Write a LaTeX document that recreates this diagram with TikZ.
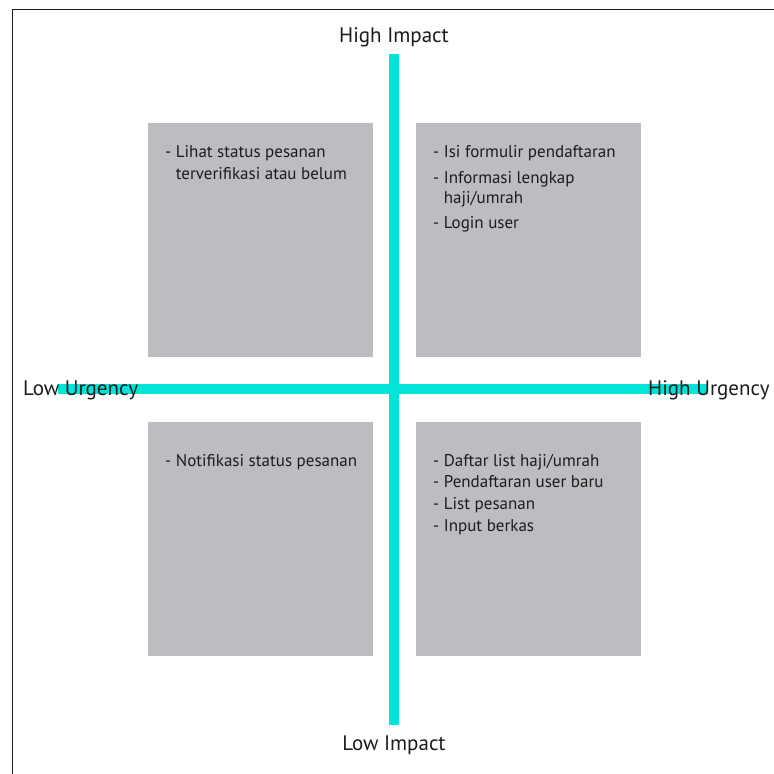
\documentclass[tikz,border=0pt]{standalone}
\usepackage{fontspec}
\setmainfont{PT Sans}
\definecolor{axiscyan}{RGB}{0,229,216}
\definecolor{boxgray}{RGB}{188,189,192}
\definecolor{ink}{RGB}{30,27,28}
\begin{document}
\begin{tikzpicture}[x=1pt,y=-1pt,
  quad/.style={fill=boxgray, draw=none, minimum width=225pt, minimum height=234pt,
    inner sep=0pt, outer sep=0pt, anchor=north west},
  bar/.style={draw=axiscyan, line width=10pt, line cap=butt},
  axislabel/.style={font=\fontsize{21}{24}\selectfont, text=ink, inner sep=0pt},
  item/.style={font=\fontsize{17}{20}\selectfont, text=ink, anchor=base west, inner sep=0pt},
  frameline/.style={draw=ink, line width=1.2pt}]
\useasboundingbox (0,0) rectangle (774,774);
\fill[white] (0,0) rectangle (774,774);

% page frame (left and top edges)
\coordinate (fBL) at (12.5,774);
\coordinate (fTL) at (12.5,9.5);
\coordinate (fTR) at (774,9.5);
\draw[frameline] (fBL) -- (fTL) -- (fTR);

% the four quadrants
\node[quad] (qTL) at (148,123) {};
\node[quad] (qTR) at (416,123) {};
\node[quad] (qBL) at (148,422) {};
\node[quad] (qBR) at (416,422) {};

% axes
\coordinate (vTop) at (394,54);
\coordinate (vBot) at (394,725);
\coordinate (hLeft) at (58,389);
\coordinate (hRight) at (708,389);
\draw[bar] (vTop) -- (vBot);
\draw[bar] (hLeft) -- (hRight);

% axis labels
\node[axislabel, anchor=base] (hiImp) at (394,42) {High Impact};
\node[axislabel, anchor=base] (loImp) at (394,750) {Low Impact};
\node[axislabel, anchor=base west] (loUrg) at (23,395) {Low Urgency};
\node[axislabel, anchor=base west] (hiUrg) at (648,395) {High Urgency};

% quadrant contents
\node[item] (tl1) at (165,157) {- Lihat status pesanan};
\node[item] (tl2) at (165,179) {\phantom{- }terverifikasi atau belum};

\node[item] (tr1) at (433,157) {- Isi formulir pendaftaran};
\node[item] (tr2) at (433,183) {- Informasi lengkap};
\node[item] (tr3) at (433,203) {\phantom{- }haji/umrah};
\node[item] (tr4) at (433,228) {- Login user};

\node[item] (bl1) at (165,466) {- Notifikasi status pesanan};

\node[item] (br1) at (433,466) {- Daftar list haji/umrah};
\node[item] (br2) at (433,487) {- Pendaftaran user baru};
\node[item] (br3) at (433,509) {- List pesanan};
\node[item] (br4) at (433,531) {- Input berkas};
\end{tikzpicture}
\end{document}
